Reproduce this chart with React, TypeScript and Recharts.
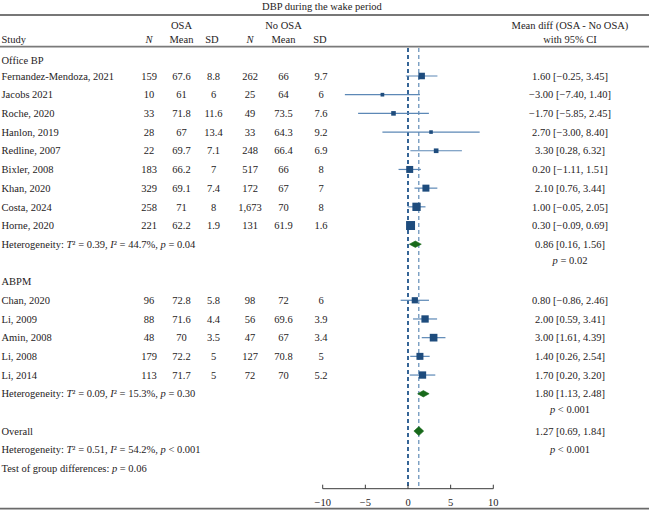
import React from 'react';
import { ComposedChart, XAxis, YAxis, Scatter, ReferenceLine } from 'recharts';

// ---------------- data ----------------
const title = 'DBP during the wake period';

const officeStudies = ['Fernandez-Mendoza, 2021', 'Jacobs 2021', 'Roche, 2020', 'Hanlon, 2019', 'Redline, 2007', 'Bixler, 2008', 'Khan, 2020', 'Costa, 2024', 'Horne, 2020'];
const officeOsaN = [159, 10, 33, 28, 22, 183, 329, 258, 221];
const officeOsaMean = [67.6, 61, 71.8, 67, 69.7, 66.2, 69.1, 71, 62.2];
const officeOsaSD = [8.8, 6, 11.6, 13.4, 7.1, 7, 7.4, 8, 1.9];
const officeNoN = [262, 25, 49, 33, 248, 517, 172, 1673, 131];
const officeNoMean = [66, 64, 73.5, 64.3, 66.4, 66, 67, 70, 61.9];
const officeNoSD = [9.7, 6, 7.6, 9.2, 6.9, 8, 7, 8, 1.6];
const officeMD = [1.6, -3, -1.7, 2.7, 3.3, 0.2, 2.1, 1, 0.3];
const officeLo = [-0.25, -7.4, -5.85, -3, 0.28, -1.11, 0.76, -0.05, -0.09];
const officeHi = [3.45, 1.4, 2.45, 8.4, 6.32, 1.51, 3.44, 2.05, 0.69];
const officeWeight = [6.3, 2.0, 3.1, 1.9, 3.2, 7.2, 7.2, 10.2, 11.9];

const abpmStudies = ['Chan, 2020', 'Li, 2009', 'Amin, 2008', 'Li, 2008', 'Li, 2014'];
const abpmOsaN = [96, 88, 48, 179, 113];
const abpmOsaMean = [72.8, 71.6, 70, 72.2, 71.7];
const abpmOsaSD = [5.8, 4.4, 3.5, 5, 5];
const abpmNoN = [98, 56, 47, 127, 72];
const abpmNoMean = [72, 69.6, 67, 70.8, 70];
const abpmNoSD = [6, 3.9, 3.4, 5, 5.2];
const abpmMD = [0.8, 2, 3, 1.4, 1.7];
const abpmLo = [-0.86, 0.59, 1.61, 0.26, 0.2];
const abpmHi = [2.46, 3.41, 4.39, 2.54, 3.2];
const abpmWeight = [5.7, 7.9, 8.7, 7.2, 7.9];

const groupNames = ['Office BP', 'ABPM'];
const pooledMD = [0.86, 1.8, 1.27];
const pooledLo = [0.16, 1.13, 0.69];
const pooledHi = [1.56, 2.48, 1.84];
const hetTau2 = ['0.39', '0.09', '0.51'];
const hetI2 = ['44.7%', '15.3%', '54.2%'];
const hetP = ['= 0.04', '= 0.30', '< 0.001'];
const effectP = ['= 0.02', '< 0.001', '< 0.001'];
const groupDiffP = '= 0.06';
const xTicks = [-10, -5, 0, 5, 10];

// ---------------- layout ----------------
const W = 649;
const H = 510;
const ROW_PX = 18.69;
const ROW1_PX = 76;
const AXIS_PX = 488.7;
const PLOT_L = 322.7;
const PLOT_R = 493.3;
const yAt = (px: number) => 1 + (px - ROW1_PX) / ROW_PX;

const COL = { study: 1.5, n1: 149, m1: 181.5, sd1: 213.5, n2: 250, m2: 283.5, sd2: 321, ci: 570, title: 322 };
const FONT = "'Liberation Serif', 'Times New Roman', serif";
const FS = 10.5;
const TXT = '#262223';
const SQUARE = '#1e4c7d';
const CI_LINE = '#5c88b6';
const DIAMOND = '#17691a';

const fmt2 = (v: number) => v.toFixed(2).replace('-', '\u2212');
const fmtN = (v: number) => v.toLocaleString('en-US');
const fmtTick = (v: number) => String(v).replace('-', '\u2212');

type Study = { name: string; n1: number; m1: number; sd1: number; n2: number; m2: number; sd2: number; md: number; lo: number; hi: number; w: number; pos: number };

const makeStudies = (names: string[], n1: number[], m1: number[], sd1: number[], n2: number[], m2: number[], sd2: number[], md: number[], lo: number[], hi: number[], w: number[], start: number): Study[] =>
  names.map((name, i) => ({ name, n1: n1[i], m1: m1[i], sd1: sd1[i], n2: n2[i], m2: m2[i], sd2: sd2[i], md: md[i], lo: lo[i], hi: hi[i], w: w[i], pos: start + i }));

const officeRows = makeStudies(officeStudies, officeOsaN, officeOsaMean, officeOsaSD, officeNoN, officeNoMean, officeNoSD, officeMD, officeLo, officeHi, officeWeight, 1);
const officeHetPos = 1 + officeStudies.length;
const abpmStart = officeHetPos + 3;
const abpmRows = makeStudies(abpmStudies, abpmOsaN, abpmOsaMean, abpmOsaSD, abpmNoN, abpmNoMean, abpmNoSD, abpmMD, abpmLo, abpmHi, abpmWeight, abpmStart);
const abpmHetPos = abpmStart + abpmStudies.length;
const overallPos = abpmHetPos + 2;
const pooledPos = [officeHetPos, abpmHetPos, overallPos];
const allStudies = [...officeRows, ...abpmRows];

type Row = { pos: number; kind: string; idx?: number; study?: Study };
const rows: Row[] = [
  { pos: yAt(6.7), kind: 'title' },
  { pos: yAt(15), kind: 'rule1' },
  { pos: yAt(25.7), kind: 'head1' },
  { pos: yAt(39.3), kind: 'head2' },
  { pos: yAt(46.7), kind: 'rule2' },
  { pos: yAt(60.7), kind: 'group', idx: 0 },
  ...officeRows.map((s) => ({ pos: s.pos, kind: 'study', study: s })),
  { pos: officeHetPos, kind: 'het', idx: 0 },
  { pos: officeHetPos + 0.86, kind: 'pval', idx: 0 },
  { pos: abpmStart - 1.03, kind: 'group', idx: 1 },
  ...abpmRows.map((s) => ({ pos: s.pos, kind: 'study', study: s })),
  { pos: abpmHetPos, kind: 'het', idx: 1 },
  { pos: abpmHetPos + 0.86, kind: 'pval', idx: 1 },
  { pos: overallPos, kind: 'overall', idx: 2 },
  { pos: overallPos + 1, kind: 'het', idx: 2 },
  { pos: overallPos + 2, kind: 'test' },
  { pos: yAt(508.6), kind: 'rule3' },
];
const yTicks = rows.map((r) => r.pos);
const yDomain = [yAt(0), yAt(AXIS_PX)];
const dashTop = yAt(48);

const T = ({ x, y, anchor = 'middle', italic = false, children }: any) => (
  <text x={x} y={y} dy="0.35em" textAnchor={anchor} fontFamily={FONT} fontSize={FS} fill={TXT} fontStyle={italic ? 'italic' : 'normal'}>
    {children}
  </text>
);

const HetText = ({ y, i }: { y: number; i: number }) => (
  <text x={COL.study} y={y} dy="0.35em" textAnchor="start" fontFamily={FONT} fontSize={FS} fill={TXT}>
    <tspan>Heterogeneity: </tspan>
    <tspan fontStyle="italic">T</tspan>
    <tspan>{'\u00B2 = ' + hetTau2[i] + ', '}</tspan>
    <tspan fontStyle="italic">I</tspan>
    <tspan>{'\u00B2 = ' + hetI2[i] + ', '}</tspan>
    <tspan fontStyle="italic">p</tspan>
    <tspan>{' ' + hetP[i]}</tspan>
  </text>
);

const PText = ({ x, y, p, anchor = 'middle' }: any) => (
  <text x={x} y={y} dy="0.35em" textAnchor={anchor} fontFamily={FONT} fontSize={FS} fill={TXT}>
    <tspan fontStyle="italic">p</tspan>
    <tspan>{' ' + p}</tspan>
  </text>
);

const TableTick = (props: any) => {
  const { y, payload } = props;
  const row = rows.find((r) => Math.abs(r.pos - payload.value) < 1e-9);
  if (!row) return <g />;
  switch (row.kind) {
    case 'title':
      return <T x={COL.title} y={y}>{title}</T>;
    case 'rule1':
      return <line x1={0} x2={W} y1={y} y2={y} stroke="#4a4a4a" strokeWidth={1.3} />;
    case 'rule2':
      return <line x1={0} x2={W} y1={y} y2={y} stroke="#7a7a7a" strokeWidth={1.8} />;
    case 'rule3':
      return <line x1={0} x2={W} y1={y} y2={y} stroke="#6a6a6a" strokeWidth={1.8} />;
    case 'head1':
      return (
        <g>
          <T x={COL.m1} y={y}>OSA</T>
          <T x={COL.m2} y={y}>No OSA</T>
          <T x={COL.ci} y={y}>Mean diff (OSA - No OSA)</T>
        </g>
      );
    case 'head2':
      return (
        <g>
          <T x={COL.study} y={y} anchor="start">Study</T>
          <T x={COL.n1} y={y} italic>N</T>
          <T x={COL.m1} y={y}>Mean</T>
          <T x={COL.sd1 - 1.5} y={y}>SD</T>
          <T x={COL.n2} y={y} italic>N</T>
          <T x={COL.m2} y={y}>Mean</T>
          <T x={COL.sd2 - 1} y={y}>SD</T>
          <T x={COL.ci} y={y}>with 95% CI</T>
        </g>
      );
    case 'group':
      return <T x={COL.study} y={y} anchor="start">{groupNames[row.idx as number]}</T>;
    case 'study': {
      const s = row.study as Study;
      return (
        <g>
          <T x={COL.study} y={y} anchor="start">{s.name}</T>
          <T x={COL.n1} y={y}>{fmtN(s.n1)}</T>
          <T x={COL.m1} y={y}>{String(s.m1)}</T>
          <T x={COL.sd1} y={y}>{String(s.sd1)}</T>
          <T x={COL.n2} y={y}>{fmtN(s.n2)}</T>
          <T x={COL.m2} y={y}>{String(s.m2)}</T>
          <T x={COL.sd2} y={y}>{String(s.sd2)}</T>
          <T x={COL.ci} y={y}>{`${fmt2(s.md)} [${fmt2(s.lo)}, ${fmt2(s.hi)}]`}</T>
        </g>
      );
    }
    case 'het': {
      const i = row.idx as number;
      return (
        <g>
          <HetText y={y} i={i} />
          {i < 2 ? (
            <T x={COL.ci} y={y}>{`${fmt2(pooledMD[i])} [${fmt2(pooledLo[i])}, ${fmt2(pooledHi[i])}]`}</T>
          ) : (
            <PText x={COL.ci} y={y} p={effectP[i]} />
          )}
        </g>
      );
    }
    case 'pval':
      return <PText x={COL.ci} y={y} p={effectP[row.idx as number]} />;
    case 'overall':
      return (
        <g>
          <T x={COL.study} y={y} anchor="start">Overall</T>
          <T x={COL.ci} y={y}>{`${fmt2(pooledMD[2])} [${fmt2(pooledLo[2])}, ${fmt2(pooledHi[2])}]`}</T>
        </g>
      );
    case 'test':
      return (
        <text x={COL.study} y={y} dy="0.35em" textAnchor="start" fontFamily={FONT} fontSize={FS} fill={TXT}>
          <tspan>Test of group differences: </tspan>
          <tspan fontStyle="italic">p</tspan>
          <tspan>{' ' + groupDiffP}</tspan>
        </text>
      );
    default:
      return <g />;
  }
};

const AxisTick = (props: any) => {
  const { x, y, payload } = props;
  return (
    <g>
      <line x1={x} x2={x} y1={y} y2={y - 4} stroke="#3a3a3a" strokeWidth={1} />
      <text x={x} y={y + 13.3} dy="0.35em" textAnchor="middle" fontFamily={FONT} fontSize={FS} fill={TXT}>
        {fmtTick(payload.value)}
      </text>
    </g>
  );
};

const SquareShape = (p: any) => {
  const s = 2.6 * Math.sqrt(p.payload.w);
  return <rect x={p.cx - s / 2} y={p.cy - s / 2} width={s} height={s} fill={SQUARE} />;
};
const EmptyShape = () => <g />;
const DiamondLine = (p: any) => {
  const pts = (p.points || []).map((q: any) => `${q.x},${q.y}`).join(' ');
  return <polygon points={pts} fill={DIAMOND} stroke={DIAMOND} strokeWidth={0.6} />;
};

const squareData = allStudies.map((s) => ({ x: s.md, y: s.pos, w: s.w }));
const diamondHalf = [0.17, 0.17, 0.24];
const diamondData = pooledMD.map((m, i) => [
  { x: pooledLo[i], y: pooledPos[i] },
  { x: m, y: pooledPos[i] - diamondHalf[i] },
  { x: pooledHi[i], y: pooledPos[i] },
  { x: m, y: pooledPos[i] + diamondHalf[i] },
]);

export default function App() {
  return (
    <div style={{ position: 'absolute', left: 0, top: 0, width: W, height: H, background: '#ffffff' }}>
      <ComposedChart width={W} height={H} margin={{ top: 0, right: W - PLOT_R, bottom: 0, left: 0 }}>
        <XAxis
          type="number"
          dataKey="x"
          domain={[-10, 10]}
          ticks={xTicks}
          allowDataOverflow
          height={H - AXIS_PX}
          axisLine={{ stroke: '#3a3a3a', strokeWidth: 1 }}
          tickLine={false}
          tickSize={0}
          tickMargin={0}
          interval={0}
          tick={<AxisTick />}
        />
        <YAxis
          type="number"
          dataKey="y"
          domain={yDomain}
          reversed
          allowDataOverflow
          width={PLOT_L}
          ticks={yTicks}
          interval={0}
          axisLine={false}
          tickLine={false}
          tick={<TableTick />}
        />
        <ReferenceLine
          segment={[{ x: 0, y: dashTop }, { x: 0, y: yDomain[1] }]}
          stroke="#2c5e92"
          strokeWidth={1.9}
          strokeDasharray="4 3"
        />
        <ReferenceLine
          segment={[{ x: pooledMD[2], y: dashTop }, { x: pooledMD[2], y: yDomain[1] }]}
          stroke="#3f73a8"
          strokeWidth={1}
          strokeDasharray="4 3"
        />
        {allStudies.map((s, i) => (
          <ReferenceLine
            key={'ci' + i}
            segment={[{ x: s.lo, y: s.pos }, { x: s.hi, y: s.pos }]}
            stroke={CI_LINE}
            strokeWidth={1.2}
          />
        ))}
        <Scatter data={squareData} shape={SquareShape} isAnimationActive={false} />
        {diamondData.map((d, i) => (
          <Scatter
            key={'dm' + i}
            data={d}
            shape={EmptyShape}
            line={DiamondLine}
            lineType="joint"
            isAnimationActive={false}
          />
        ))}
      </ComposedChart>
    </div>
  );
}
